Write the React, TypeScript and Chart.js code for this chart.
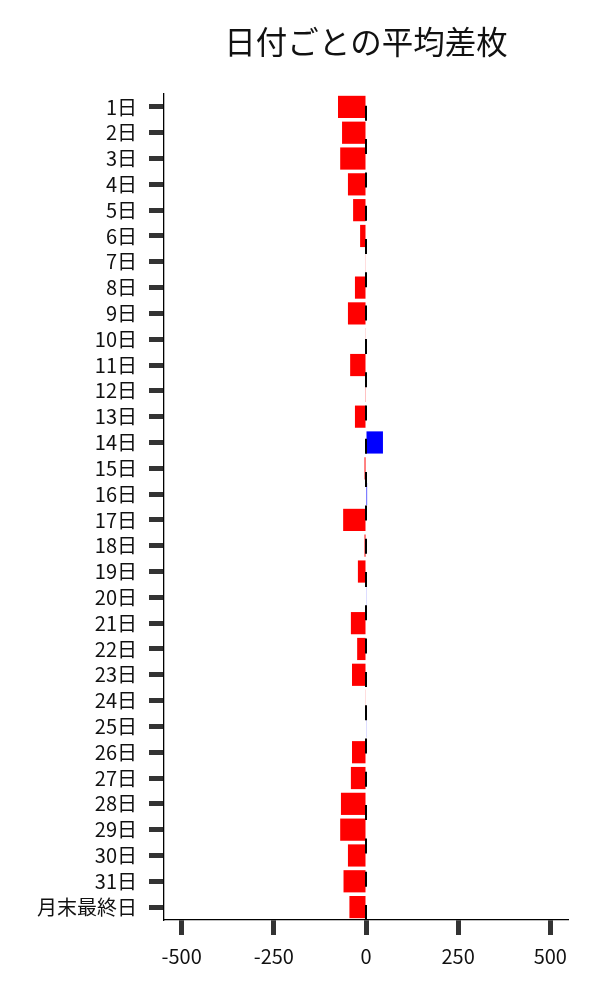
import { useEffect, useRef } from "react";
import { Chart, registerables, type ChartConfiguration, type Plugin } from "chart.js";

Chart.register(...registerables);

// 日付ごとの平均差枚（横棒）
const LABELS = [
  "1日", "2日", "3日", "4日", "5日", "6日", "7日", "8日", "9日", "10日",
  "11日", "12日", "13日", "14日", "15日", "16日", "17日", "18日", "19日", "20日",
  "21日", "22日", "23日", "24日", "25日", "26日", "27日", "28日", "29日", "30日",
  "31日", "月末最終日",
];

const VALUES = [
  -76, -65, -70, -49, -35, -16, -1, -30, -49, -1,
  -43, -2, -30, 46, -4, 3, -62, -4, -22, 1,
  -41, -24, -38, -1, 1, -38, -41, -68, -70, -49,
  -61, -45,
];

const X_TICKS = [-500, -250, 0, 250, 500];

const TITLE = "日付ごとの平均差枚";
const FONT = "'Noto Sans CJK JP', 'Noto Sans', sans-serif";

// タイトル（軸領域の中央）と x=0 の破線
const extras: Plugin<"bar"> = {
  id: "extras",
  afterDatasetsDraw(chart) {
    const { ctx, chartArea, scales } = chart;
    const x0 = scales.x.getPixelForValue(0);
    ctx.save();
    ctx.strokeStyle = "#000000";
    ctx.lineWidth = 2;
    ctx.setLineDash([15, 18.3]);
    ctx.beginPath();
    ctx.moveTo(x0, chartArea.bottom);
    ctx.lineTo(x0, chartArea.top);
    ctx.stroke();
    ctx.restore();
  },
  afterDraw(chart) {
    const { ctx, chartArea } = chart;
    ctx.save();
    ctx.fillStyle = "#111111";
    ctx.font = `31.5px ${FONT}`;
    ctx.textAlign = "center";
    ctx.textBaseline = "middle";
    ctx.fillText(TITLE, (chartArea.left + chartArea.right) / 2, 42);
    ctx.restore();
  },
};

function buildConfig(): ChartConfiguration<"bar"> {
  return {
    type: "bar",
    data: {
      labels: LABELS,
      datasets: [
        {
          data: VALUES,
          backgroundColor: VALUES.map((v) => (v < 0 ? "#ff0000" : "#0000ff")),
          borderWidth: 0,
          barPercentage: 0.86,
          categoryPercentage: 1,
        },
      ],
    },
    options: {
      indexAxis: "y",
      responsive: false,
      animation: false,
      devicePixelRatio: 1,
      layout: { padding: { top: 94, right: 32, left: 0, bottom: 0 } },
      plugins: {
        legend: { display: false },
        tooltip: { enabled: false },
        title: { display: false },
      },
      scales: {
        x: {
          type: "linear",
          min: -548,
          max: 548,
          afterBuildTicks: (scale) => {
            scale.ticks = X_TICKS.map((v) => ({ value: v }));
          },
          afterFit: (scale) => {
            scale.height = 80;
          },
          ticks: {
            color: "#111111",
            font: { family: FONT, size: 20 },
            padding: 9,
            maxRotation: 0,
            callback: (v) => String(v),
          },
          grid: {
            drawOnChartArea: false,
            drawTicks: true,
            tickLength: 15,
            tickWidth: 5,
            tickColor: "#333333",
          },
          border: { display: true, color: "#000000", width: 1.3 },
        },
        y: {
          type: "category",
          afterFit: (scale) => {
            scale.width = 164;
          },
          ticks: {
            color: "#111111",
            font: { family: FONT, size: 20 },
            padding: 12,
            autoSkip: false,
          },
          grid: {
            offset: false,
            drawOnChartArea: false,
            drawTicks: true,
            tickLength: 15,
            tickWidth: 5,
            tickColor: "#333333",
          },
          border: { display: true, color: "#000000", width: 1.3 },
        },
      },
    },
    plugins: [extras],
  };
}

export default function App() {
  const canvasRef = useRef<HTMLCanvasElement>(null);

  useEffect(() => {
    const canvas = canvasRef.current;
    if (!canvas) return;
    const chart = new Chart(canvas, buildConfig());
    return () => chart.destroy();
  }, []);

  return (
    <div style={{ position: "absolute", left: 0, top: 0, width: 600, height: 1000, background: "#ffffff" }}>
      <canvas ref={canvasRef} width={600} height={1000} />
    </div>
  );
}
